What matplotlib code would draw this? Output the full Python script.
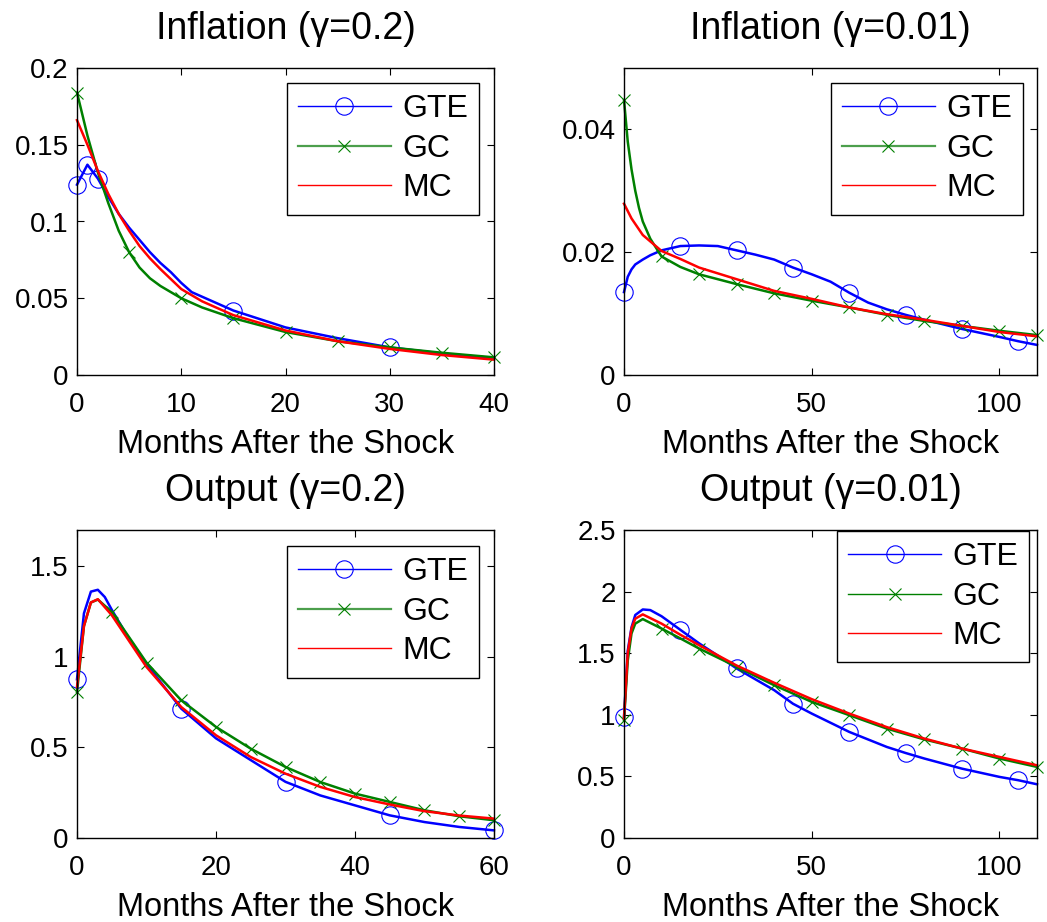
import numpy as np
import matplotlib
matplotlib.use("Agg")
import matplotlib.pyplot as plt
from matplotlib.lines import Line2D
from matplotlib.ticker import FuncFormatter

plt.rcParams['font.family'] = ['Liberation Sans', 'DejaVu Sans']

# Inflation, gamma = 0.2
inf02_gte_x = [0, 1, 2, 3, 4, 5, 6, 7, 8, 9, 10, 11, 15, 20, 25, 30, 35, 40]
inf02_gte = [0.124, 0.137, 0.128, 0.116, 0.105, 0.096, 0.088, 0.080, 0.073, 0.067,
             0.060, 0.054, 0.042, 0.031, 0.024, 0.018, 0.014, 0.011]
inf02_gc_x = [0, 1, 2, 3, 4, 5, 6, 7, 8, 10, 12, 15, 20, 25, 30, 35, 40]
inf02_gc = [0.184, 0.156, 0.132, 0.112, 0.094, 0.080, 0.070, 0.063, 0.058, 0.050,
            0.044, 0.037, 0.028, 0.022, 0.018, 0.0145, 0.0115]
inf02_mc_x = [0, 1, 2, 3, 4, 5, 6, 7, 8, 10, 12, 15, 20, 25, 30, 35, 40]
inf02_mc = [0.166, 0.150, 0.133, 0.118, 0.105, 0.094, 0.084, 0.076, 0.069, 0.056,
            0.048, 0.039, 0.029, 0.022, 0.017, 0.013, 0.010]

# Inflation, gamma = 0.01
inf001_gte_x = [0, 1, 2, 3, 5, 7, 10, 15, 20, 25, 30, 35, 40, 45, 50, 55, 60, 65,
                70, 75, 80, 90, 100, 105, 110]
inf001_gte = [0.0135, 0.0160, 0.0172, 0.0180, 0.0188, 0.0195, 0.0203, 0.0210, 0.0211,
              0.0210, 0.0203, 0.0196, 0.0188, 0.0175, 0.0164, 0.0152, 0.0134, 0.0118,
              0.0107, 0.0098, 0.0090, 0.0075, 0.0062, 0.0055, 0.0049]
inf001_gc_x = [0, 1, 2, 3, 4, 5, 7, 10, 15, 20, 30, 40, 50, 60, 70, 80, 90, 100, 110]
inf001_gc = [0.0448, 0.0380, 0.0335, 0.0300, 0.0272, 0.0250, 0.0222, 0.0193, 0.0176,
             0.0164, 0.0148, 0.0133, 0.0121, 0.0110, 0.0098, 0.0088, 0.0080, 0.0072, 0.0065]
inf001_mc_x = [0, 2, 5, 10, 15, 20, 30, 40, 50, 60, 70, 80, 90, 100, 110]
inf001_mc = [0.0279, 0.0255, 0.0228, 0.0202, 0.0189, 0.0175, 0.0156, 0.0137, 0.0124,
             0.0110, 0.0099, 0.0090, 0.0080, 0.0070, 0.0063]

# Output, gamma = 0.2
out02_gte_x = [0, 1, 2, 3, 4, 5, 7, 10, 15, 20, 25, 30, 35, 40, 45, 50, 55, 60]
out02_gte = [0.876, 1.24, 1.36, 1.37, 1.33, 1.26, 1.13, 0.96, 0.714, 0.55, 0.43, 0.31,
             0.235, 0.18, 0.125, 0.088, 0.061, 0.042]
out02_gc_x = [0, 1, 2, 3, 5, 10, 15, 20, 25, 30, 35, 40, 45, 50, 55, 60]
out02_gc = [0.806, 1.17, 1.30, 1.316, 1.248, 0.968, 0.76, 0.613, 0.493, 0.392, 0.309,
            0.245, 0.199, 0.153, 0.12, 0.098]
out02_mc_x = [0, 1, 2, 3, 5, 10, 15, 20, 25, 30, 35, 40, 45, 50, 55, 60]
out02_mc = [0.834, 1.17, 1.30, 1.318, 1.23, 0.944, 0.723, 0.567, 0.447, 0.355, 0.282,
            0.226, 0.185, 0.148, 0.124, 0.107]

# Output, gamma = 0.01
out001_gte_x = [0, 1, 2, 3, 5, 7, 10, 15, 20, 25, 30, 40, 45, 50, 60, 70, 75, 80,
                90, 100, 105, 110]
out001_gte = [0.983, 1.52, 1.71, 1.81, 1.855, 1.85, 1.80, 1.69, 1.58, 1.48, 1.376, 1.20,
              1.09, 1.01, 0.861, 0.739, 0.69, 0.645, 0.563, 0.496, 0.469, 0.436]
out001_gc_x = [0, 1, 2, 3, 5, 10, 15, 20, 30, 40, 50, 60, 70, 80, 90, 100, 110]
out001_gc = [0.956, 1.44, 1.66, 1.74, 1.777, 1.70, 1.62, 1.538, 1.39, 1.24, 1.105, 0.997,
             0.888, 0.80, 0.726, 0.645, 0.577]
out001_mc_x = [0, 1, 2, 3, 5, 10, 15, 20, 30, 40, 50, 60, 70, 80, 90, 100, 110]
out001_mc = [0.97, 1.50, 1.70, 1.78, 1.815, 1.74, 1.65, 1.565, 1.40, 1.26, 1.127, 1.01,
             0.90, 0.807, 0.726, 0.658, 0.59]

# months where markers sit
inf02_gte_marks = [0, 1, 2, 15, 30]
inf02_gc_marks = list(range(0, 41, 5))
inf001_gte_marks = list(range(0, 106, 15))
inf001_gc_marks = list(range(0, 111, 10))
out02_gte_marks = list(range(0, 61, 15))
out02_gc_marks = list(range(0, 61, 5))
out001_gte_marks = list(range(0, 106, 15))
out001_gc_marks = list(range(0, 111, 10))

titles = ['Inflation (\u03b3=0.2)', 'Inflation (\u03b3=0.01)',
          'Output (\u03b3=0.2)', 'Output (\u03b3=0.01)']
xlims = [(0, 40), (0, 110), (0, 60), (0, 110)]
ylims = [(0, 0.2), (0, 0.05), (0, 1.7), (0, 2.5)]
xticks = [[0, 10, 20, 30, 40], [0, 50, 100], [0, 20, 40, 60], [0, 50, 100]]
yticks = [[0, 0.05, 0.1, 0.15, 0.2], [0, 0.02, 0.04], [0, 0.5, 1, 1.5],
          [0, 0.5, 1, 1.5, 2, 2.5]]

panels = [
    (inf02_gte_x, inf02_gte, inf02_gte_marks, inf02_gc_x, inf02_gc, inf02_gc_marks,
     inf02_mc_x, inf02_mc),
    (inf001_gte_x, inf001_gte, inf001_gte_marks, inf001_gc_x, inf001_gc, inf001_gc_marks,
     inf001_mc_x, inf001_mc),
    (out02_gte_x, out02_gte, out02_gte_marks, out02_gc_x, out02_gc, out02_gc_marks,
     out02_mc_x, out02_mc),
    (out001_gte_x, out001_gte, out001_gte_marks, out001_gc_x, out001_gc, out001_gc_marks,
     out001_mc_x, out001_mc),
]

W, H = 1047, 922
axes_px = [(77, 68, 494, 375), (624, 68, 1037, 375),
           (77, 530, 494, 838), (624, 530, 1037, 838)]
legend_anchor = [(0.964, 0.951), (0.966, 0.951), (0.964, 0.948), (0.981, 0.997)]

blue, green, red = '#0000ff', '#008000', '#ff0000'

fig = plt.figure(figsize=(W / 100, H / 100), dpi=100)

for i, (gx, gy, gm, cx, cy, cm, mx, my) in enumerate(panels):
    l, t, r, b = axes_px[i]
    ax = fig.add_axes([l / W, 1 - b / H, (r - l) / W, (b - t) / H])

    g_idx = list(np.nonzero(np.isin(gx, gm))[0])
    c_idx = list(np.nonzero(np.isin(cx, cm))[0])
    ax.plot(gx, gy, color=blue, lw=1.8, marker='o', markevery=g_idx, ms=12.5,
            mfc='none', mec=blue, mew=0.8, clip_on=False)
    ax.plot(cx, cy, color=green, lw=1.8, marker='x', markevery=c_idx, ms=9,
            mec=green, mew=0.8, clip_on=False)
    ax.plot(mx, my, color=red, lw=1.8, clip_on=False)

    ax.set_xlim(*xlims[i])
    ax.set_ylim(*ylims[i])
    ax.set_xticks(xticks[i])
    ax.set_yticks(yticks[i])
    ax.xaxis.set_major_formatter(FuncFormatter(lambda v, p: '%g' % v))
    ax.yaxis.set_major_formatter(FuncFormatter(lambda v, p: '%g' % v))
    ax.tick_params(direction='in', top=True, right=True, length=5, width=0.8,
                   labelsize=20)
    ax.tick_params(axis='x', pad=12)
    ax.tick_params(axis='y', pad=6)
    for s in ax.spines.values():
        s.set_linewidth(1.0)

    ax.set_title(titles[i], fontsize=27, pad=21)
    ax.set_xlabel('Months After the Shock', fontsize=23.5, labelpad=8)

    gc_leg_color = '#4c9f4c' if i < 3 else green
    gc_leg_lw = 1.6 if i < 3 else 1.0
    handles = [
        Line2D([], [], color=blue, lw=1.0, marker='o', ms=12.5, mfc='none',
               mec=blue, mew=0.8),
        Line2D([], [], color=gc_leg_color, lw=gc_leg_lw, marker='x', ms=9,
               mec=green, mew=0.8),
        Line2D([], [], color=red, lw=1.0),
    ]
    leg = ax.legend(handles, ['GTE', 'GC', 'MC'], loc='upper right',
                    bbox_to_anchor=legend_anchor[i], borderaxespad=0,
                    fontsize=23, numpoints=1, handlelength=2.9,
                    handletextpad=0.35, labelspacing=0.3, borderpad=0.35,
                    fancybox=False, framealpha=1, edgecolor='black')
    leg.get_frame().set_linewidth(1.0)

fig.savefig('out.png', dpi=100)
